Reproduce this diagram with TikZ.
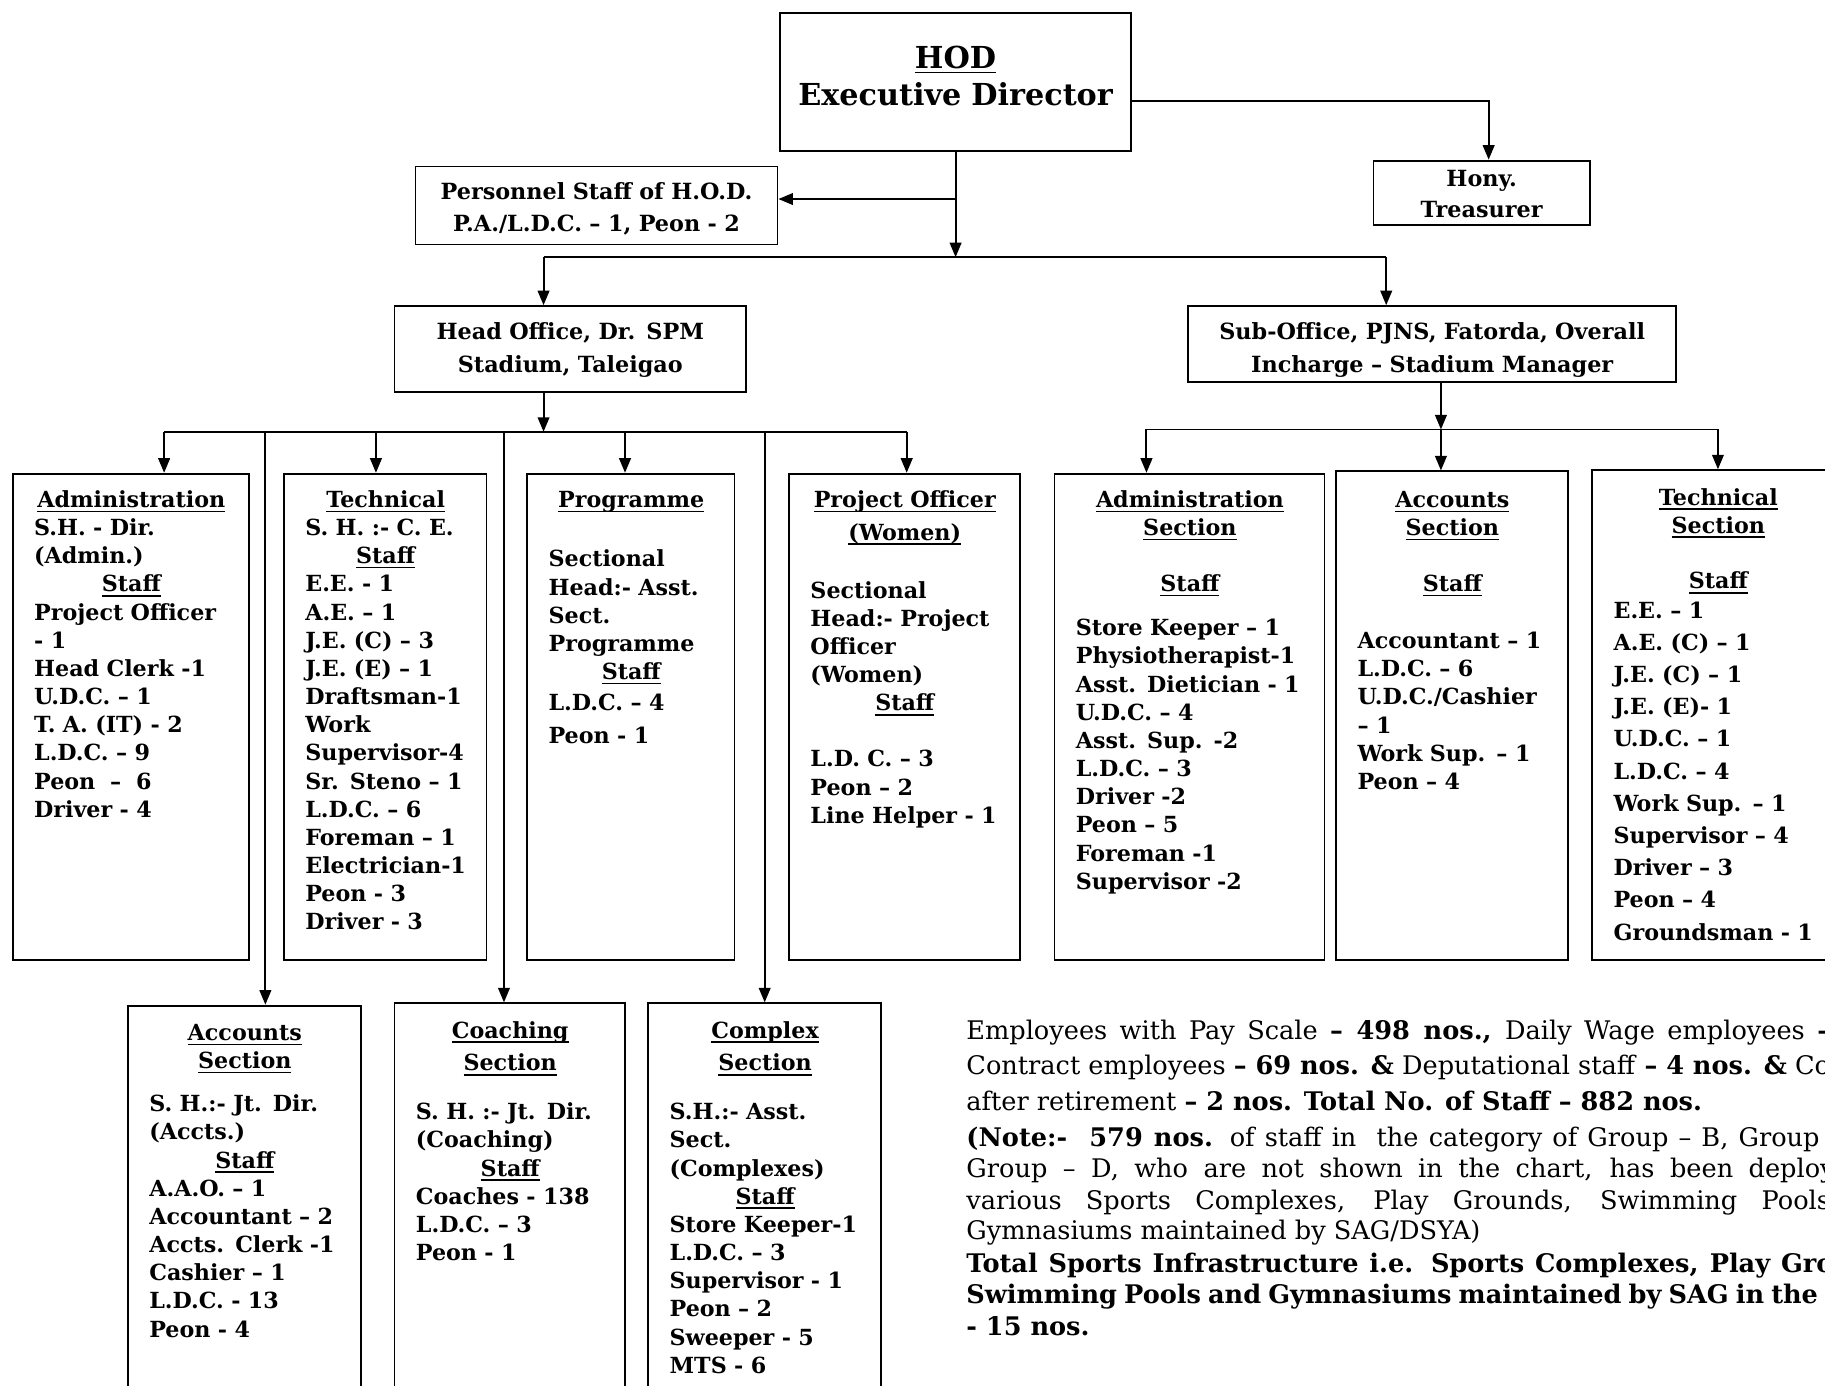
\documentclass[tikz,border=0pt]{standalone}
\usepackage{fontspec}
\setmainfont{DejaVu Serif}
\usetikzlibrary{arrows.meta,fit}
\newcommand\ulx[1]{\setbox0\hbox{#1}\leavevmode\rlap{\rule[-2.4pt]{\wd0}{0.75pt}}\box0}
\newcommand\hd[1]{\makebox[\bw]{\ulx{#1}}}
\def\bw{100pt}
\begin{document}
\begin{tikzpicture}[x=0.6pt,y=-0.6pt,
  bx/.style={draw,line width=0.95pt,inner sep=0pt,fit={#1}},
  arr/.style={line width=1pt,-{Triangle[length=7.5pt,width=6pt]}},
  ln/.style={line width=1pt},
  lt/.style={anchor=base west,inner sep=0pt,align=left,text width=220pt,
    font=\bfseries\fontsize{11.45}{14.52}\selectfont},
  bwid/.style={execute at begin node={\def\bw{#1}}},
  ctr/.style={anchor=base,inner sep=0pt,align=center,text width=320pt,
    font=\bfseries\fontsize{11.5}{16.8}\selectfont},
  nt/.style={anchor=base west,inner sep=0pt,font=\fontsize{13.2}{15}\selectfont}]
\clip (0,0) rectangle (1568,1190);
\fill[white] (0,0) rectangle (1568,1190);
% ---- boxes
\node[bx={(670,11) (972,130)}] (hod) {};
\node[bx={(1180,138) (1366,193)}] (hony) {};
\node[bx={(357,143) (668,210)}] (pers) {};
\node[bx={(339,263) (641,337)}] (ho) {};
\node[bx={(1021,263) (1440,328)}] (sub) {};
\node[bx={(11,407) (214,825)}] (adm) {};
\node[bx={(244,407) (418,825)}] (tec) {};
\node[bx={(453,407) (631,825)}] (prog) {};
\node[bx={(678,407) (876,825)}] (poff) {};
\node[bx={(906,407) (1138,825)}] (asec) {};
\node[bx={(1148,405) (1347,825)}] (csec) {};
\node[bx={(1368,404) (1584,825)}] (tsec) {};
\node[bx={(110,864) (310,1200)}] (acc) {};
\node[bx={(339,862) (537,1200)}] (coa) {};
\node[bx={(557,862) (757,1200)}] (cpx) {};
% ---- top texts
\node[ctr,font=\bfseries\fontsize{15.6}{19.2}\selectfont] (thod) at (821,59) {\ulx{HOD}\\Executive Director};
\node[ctr,font=\bfseries\fontsize{11.5}{16.2}\selectfont] (thony) at (1273,160) {Hony.\\Treasurer};
\node[ctr] (tpers) at (512.5,171) {Personnel Staff of H.O.D.\\P.A./L.D.C. – 1, Peon - 2};
\node[ctr] (tho) at (490,292) {Head Office, Dr. SPM\\Stadium, Taleigao};
\node[ctr] (tsub) at (1230.5,292) {Sub-Office, PJNS, Fatorda, Overall\\Incharge – Stadium Manager};
% ---- section texts
\node[lt,bwid=100.2pt] (tadm) at (29,436) {\hd{Administration}\\S.H. - Dir.\\(Admin.)\\\hd{Staff}\\Project Officer\\- 1\\Head Clerk -1\\U.D.C. – 1\\T. A. (IT) - 2\\L.D.C. – 9\\Peon\ \ –\ \ 6\\Driver - 4};
\node[lt,bwid=82.8pt] (ttec) at (262,436) {\hd{Technical}\\S. H. :- C. E.\\\hd{Staff}\\E.E. - 1\\A.E. – 1\\J.E. (C) – 3\\J.E. (E) – 1\\Draftsman-1\\Work\\Supervisor-4\\Sr. Steno – 1\\L.D.C. – 6\\Foreman – 1\\Electrician-1\\Peon - 3\\Driver - 3};
\node[lt,bwid=85.2pt] (tprog) at (471,436) {\hd{Programme}\\[16.1pt]Sectional\\Head:- Asst.\\Sect.\\Programme\\\hd{Staff}\\[1.7pt]L.D.C. – 4\\[2.3pt]Peon - 1};
\node[lt,bwid=97.2pt] (tpoff) at (696,436) {\hd{Project Officer}\\[2.3pt]\hd{(Women)}\\[15.5pt]Sectional\\Head:- Project\\Officer\\(Women)\\\hd{Staff}\\[14.3pt]L.D. C. – 3\\Peon – 2\\Line Helper - 1};
\node[lt,bwid=117.6pt] (tasec) at (924,436) {\hd{Administration}\\\hd{Section}\\[14.3pt]\hd{Staff}\\[8.3pt]Store Keeper – 1\\Physiotherapist-1\\Asst. Dietician - 1\\U.D.C. – 4\\Asst. Sup. -2\\L.D.C. – 3\\Driver -2\\Peon – 5\\Foreman -1\\Supervisor -2};
\node[lt,bwid=97.8pt] (tcsec) at (1166,436) {\hd{Accounts}\\\hd{Section}\\[14.3pt]\hd{Staff}\\[14.9pt]Accountant – 1\\L.D.C. – 6\\U.D.C./Cashier\\– 1\\Work Sup. – 1\\Peon – 4};
\node[lt,bwid=108pt,font=\bfseries\fontsize{11.45}{16.6}\selectfont] (ttsec) at (1386,434) {\hd{Technical}\\[-2.2pt]\hd{Section}\\[12.2pt]\hd{Staff}\\[-1.6pt]E.E. – 1\\A.E. (C) – 1\\J.E. (C) – 1\\J.E. (E)- 1\\U.D.C. – 1\\L.D.C. – 4\\Work Sup. – 1\\Supervisor – 4\\Driver – 3\\Peon – 4\\Groundsman - 1};
\node[lt,bwid=98.4pt] (tacc) at (128,894) {\hd{Accounts}\\\hd{Section}\\[7.7pt]S. H.:- Jt. Dir.\\(Accts.)\\\hd{Staff}\\A.A.O. – 1\\Accountant – 2\\Accts. Clerk -1\\Cashier – 1\\L.D.C. - 13\\Peon - 4};
\node[lt,bwid=97.2pt] (tcoa) at (357,892) {\hd{Coaching}\\[2.3pt]\hd{Section}\\[10.7pt]S. H. :- Jt. Dir.\\(Coaching)\\\hd{Staff}\\Coaches - 138\\L.D.C. – 3\\Peon - 1};
\node[lt,bwid=98.4pt] (tcpx) at (575,892) {\hd{Complex}\\[2.3pt]\hd{Section}\\[10.7pt]S.H.:- Asst.\\Sect.\\(Complexes)\\\hd{Staff}\\Store Keeper-1\\L.D.C. – 3\\Supervisor - 1\\Peon – 2\\Sweeper - 5\\MTS - 6};
% ---- notes
\node[nt] (n1) at (830,893) {\makebox[445.2pt][s]{Employees with Pay Scale \textbf{– 498 nos.,} Daily Wage employees \textbf{–}}};
\node[nt] (n2) at (830,923) {\makebox[445.2pt][s]{Contract employees \textbf{– 69 nos. \&} Deputational staff \textbf{– 4 nos. \&} Co}};
\node[nt] (n3) at (830,954) {after retirement \textbf{– 2 nos. Total No. of Staff – 882 nos.}};
\node[nt] (n4) at (830,985) {\makebox[439.8pt][s]{\textbf{(Note:-\ \ 579 nos.} of staff in\ \ the category of Group – B, Group}};
\node[nt] (n5) at (830,1012) {\makebox[447.6pt][s]{Group – D, who are not shown in the chart, has been deploy}};
\node[nt] (n6) at (830,1039) {\makebox[445.2pt][s]{various Sports Complexes, Play Grounds, Swimming Pools}};
\node[nt] (n7) at (830,1065) {Gymnasiums maintained by SAG/DSYA)};
\node[nt] (n8) at (830,1093) {\makebox[447pt][s]{\bfseries Total Sports Infrastructure i.e. Sports Complexes, Play Gro}};
\node[nt] (n9) at (830,1120) {\makebox[439pt][s]{\bfseries Swimming Pools and Gymnasiums maintained by SAG in the}};
\node[nt] (n10) at (830,1147) {\textbf{- 15 nos.}};
% ---- connectors
\coordinate (yh) at (0,87);
\coordinate (yb) at (0,221);
\coordinate (jL) at (467,221);
\coordinate (jR) at (1191,221);
\coordinate (kL) at (141,371);
\coordinate (k2) at (323,371);
\coordinate (k3) at (537,371);
\coordinate (kR) at (779,371);
\coordinate (v1) at (228,371);
\coordinate (v2) at (433,371);
\coordinate (v3) at (657,371);
\coordinate (sL) at (985,369);
\coordinate (sM) at (1238,369);
\coordinate (sR) at (1476,369);
\coordinate (pe) at ([yshift=3.3pt]pers.east);
\draw[arr] (hod.east |- yh) -| ([xshift=3.6pt]hony.north);
\draw[arr] (hod.south) -- (hod.south |- yb);
\draw[arr] (hod.south |- pe) -- (pe);
\draw[ln] (jL) -- (jR);
\draw[arr] (jL) -- (jL |- ho.north);
\draw[arr] (jR) -- (jR |- sub.north);
\draw[arr] (jL |- ho.south) -- (jL |- kL);
\draw[ln] (kL) -- (kR);
\draw[arr] (kL) -- (kL |- adm.north);
\draw[arr] (k2) -- (k2 |- tec.north);
\draw[arr] (k3) -- (k3 |- prog.north);
\draw[arr] (kR) -- (kR |- poff.north);
\draw[arr] (v1) -- (v1 |- acc.north);
\draw[arr] (v2) -- (v2 |- coa.north);
\draw[arr] (v3) -- (v3 |- cpx.north);
\draw[arr] (sM |- sub.south) -- (sM);
\draw[ln] (sL) -- (sR);
\draw[arr] (sL) -- (sL |- asec.north);
\draw[arr] (sM) -- (sM |- csec.north);
\draw[arr] (sR) -- (sR |- tsec.north);
\end{tikzpicture}
\end{document}
